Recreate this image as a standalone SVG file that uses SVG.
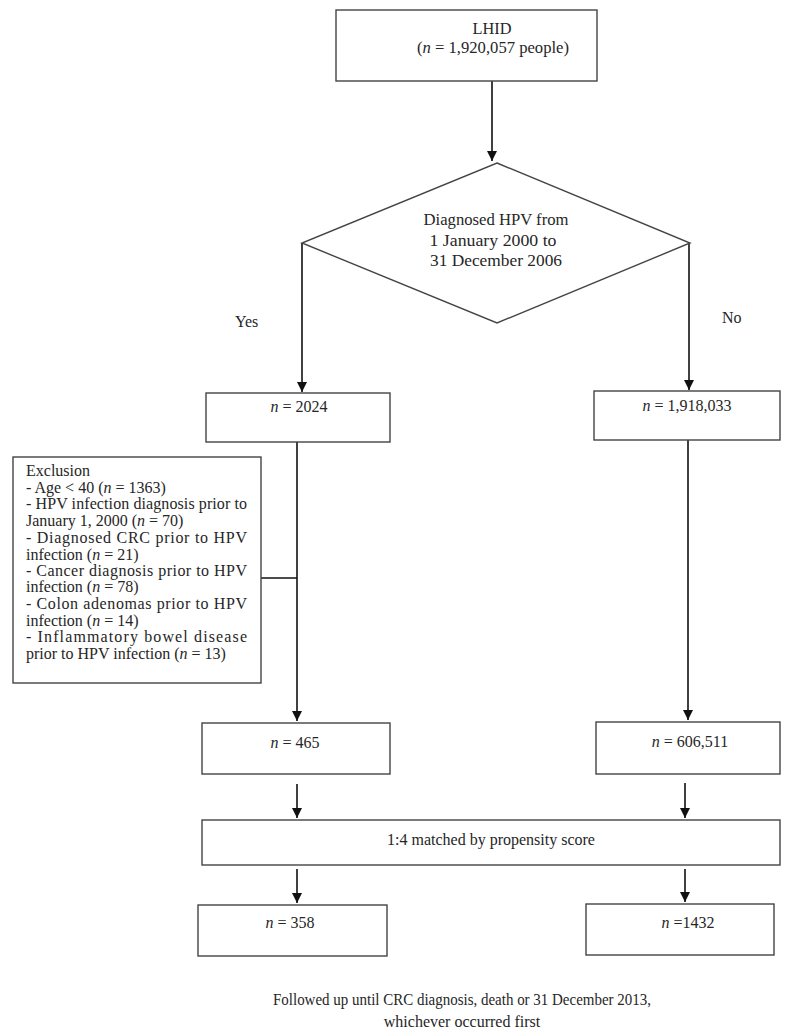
<svg xmlns="http://www.w3.org/2000/svg" width="793" height="1035" viewBox="0 0 793 1035" font-family="'Liberation Serif', 'DejaVu Serif', serif">
<style>
  .box { fill: #ffffff; stroke: #444444; stroke-width: 1.4; }
  .t { font-family: 'Liberation Serif', 'DejaVu Serif', serif; font-size: 16px; fill: #262626; }
  .c { text-anchor: middle; }
  .conn line { stroke: #111111; stroke-width: 1.6; fill: none; }
  .plain { stroke: #444444; stroke-width: 1.4; }
</style>
<defs>
  <marker id="ah" markerUnits="userSpaceOnUse" markerWidth="10" markerHeight="12" refX="10" refY="5" orient="auto">
    <path d="M0,0 L10,5 L0,10 z" fill="#111111"/>
  </marker>
</defs>
<rect width="793" height="1035" fill="#ffffff"/>

<g id="connectors" class="conn">
  <line x1="492" y1="81" x2="492" y2="161" marker-end="url(#ah)"/>
  <line x1="302" y1="243" x2="302" y2="392" marker-end="url(#ah)"/>
  <line x1="689" y1="243" x2="689" y2="390" marker-end="url(#ah)"/>
  <line x1="297" y1="442" x2="297" y2="721" marker-end="url(#ah)"/>
  <line x1="261" y1="578" x2="297" y2="578" class="plain"/>
  <line x1="688" y1="440" x2="688" y2="720" marker-end="url(#ah)"/>
  <line x1="297" y1="784" x2="297" y2="818" marker-end="url(#ah)"/>
  <line x1="685" y1="783" x2="685" y2="818" marker-end="url(#ah)"/>
  <line x1="297" y1="869" x2="297" y2="903" marker-end="url(#ah)"/>
  <line x1="685" y1="869" x2="685" y2="902" marker-end="url(#ah)"/>
</g>

<g id="lhid">
  <rect class="box" x="336" y="10" width="261" height="71"/>
  <text class="t c" x="492" y="34" textLength="39" lengthAdjust="spacingAndGlyphs">LHID</text>
  <text class="t c" x="493" y="53" textLength="152" lengthAdjust="spacingAndGlyphs">(<tspan font-style="italic">n</tspan> = 1,920,057 people)</text>
</g>

<g id="decision">
  <polygon class="box" points="497,163 690,243 497,323 302,243"/>
  <text class="t c" x="496" y="225" textLength="145" lengthAdjust="spacingAndGlyphs">Diagnosed HPV from</text>
  <text class="t c" x="493" y="246" textLength="127" lengthAdjust="spacingAndGlyphs">1 January  2000 to</text>
  <text class="t c" x="496" y="266" textLength="132" lengthAdjust="spacingAndGlyphs">31 December  2006</text>
</g>

<g id="label-yes"><text class="t" x="235" y="327">Yes</text></g>
<g id="label-no"><text class="t" x="722" y="323">No</text></g>

<g id="n2024">
  <rect class="box" x="206" y="393" width="184" height="49"/>
  <text class="t c" x="299" y="412"><tspan font-style="italic">n</tspan> = 2024</text>
</g>

<g id="n1918033">
  <rect class="box" x="594" y="391" width="186" height="49"/>
  <text class="t c" x="687" y="411"><tspan font-style="italic">n</tspan> = 1,918,033</text>
</g>

<g id="exclusion">
  <rect class="box" x="13" y="457" width="248" height="226"/>
  <text class="t" x="26" y="476">Exclusion</text>
  <text class="t" x="26" y="493">- Age &lt; 40 (<tspan font-style="italic">n</tspan> = 1363)</text>
  <text class="t" x="26" y="509" textLength="221" lengthAdjust="spacing">- HPV infection diagnosis prior to</text>
  <text class="t" x="26" y="526">January 1, 2000 (<tspan font-style="italic">n</tspan> = 70)</text>
  <text class="t" x="26" y="543" textLength="221" lengthAdjust="spacing">- Diagnosed CRC prior to HPV</text>
  <text class="t" x="26" y="560">infection (<tspan font-style="italic">n</tspan> = 21)</text>
  <text class="t" x="26" y="576" textLength="221" lengthAdjust="spacing">- Cancer diagnosis prior to HPV</text>
  <text class="t" x="26" y="592">infection (<tspan font-style="italic">n</tspan> = 78)</text>
  <text class="t" x="26" y="609" textLength="221" lengthAdjust="spacing">- Colon adenomas prior to HPV</text>
  <text class="t" x="26" y="626">infection (<tspan font-style="italic">n</tspan> = 14)</text>
  <text class="t" x="26" y="642" textLength="221" lengthAdjust="spacing">- Inflammatory bowel disease</text>
  <text class="t" x="26" y="659">prior to HPV infection (<tspan font-style="italic">n</tspan> = 13)</text>
</g>

<g id="n465">
  <rect class="box" x="202" y="723" width="188" height="51"/>
  <text class="t c" x="295" y="748"><tspan font-style="italic">n</tspan> = 465</text>
</g>

<g id="n606511">
  <rect class="box" x="596" y="722" width="184" height="52"/>
  <text class="t c" x="690" y="747"><tspan font-style="italic">n</tspan> = 606,511</text>
</g>

<g id="matched">
  <rect class="box" x="202" y="820" width="578" height="45"/>
  <text class="t c" x="491" y="845">1:4 matched by propensity score</text>
</g>

<g id="n358">
  <rect class="box" x="198" y="905" width="189" height="51"/>
  <text class="t c" x="290" y="928"><tspan font-style="italic">n</tspan> = 358</text>
</g>

<g id="n1432">
  <rect class="box" x="586" y="904" width="188" height="51"/>
  <text class="t c" x="688" y="928"><tspan font-style="italic">n</tspan> =1432</text>
</g>

<g id="footer">
  <text class="t c" x="462" y="1005" textLength="378" lengthAdjust="spacingAndGlyphs">Followed up until CRC diagnosis, death or 31 December 2013,</text>
  <text class="t c" x="462" y="1027">whichever occurred first</text>
</g>
</svg>
